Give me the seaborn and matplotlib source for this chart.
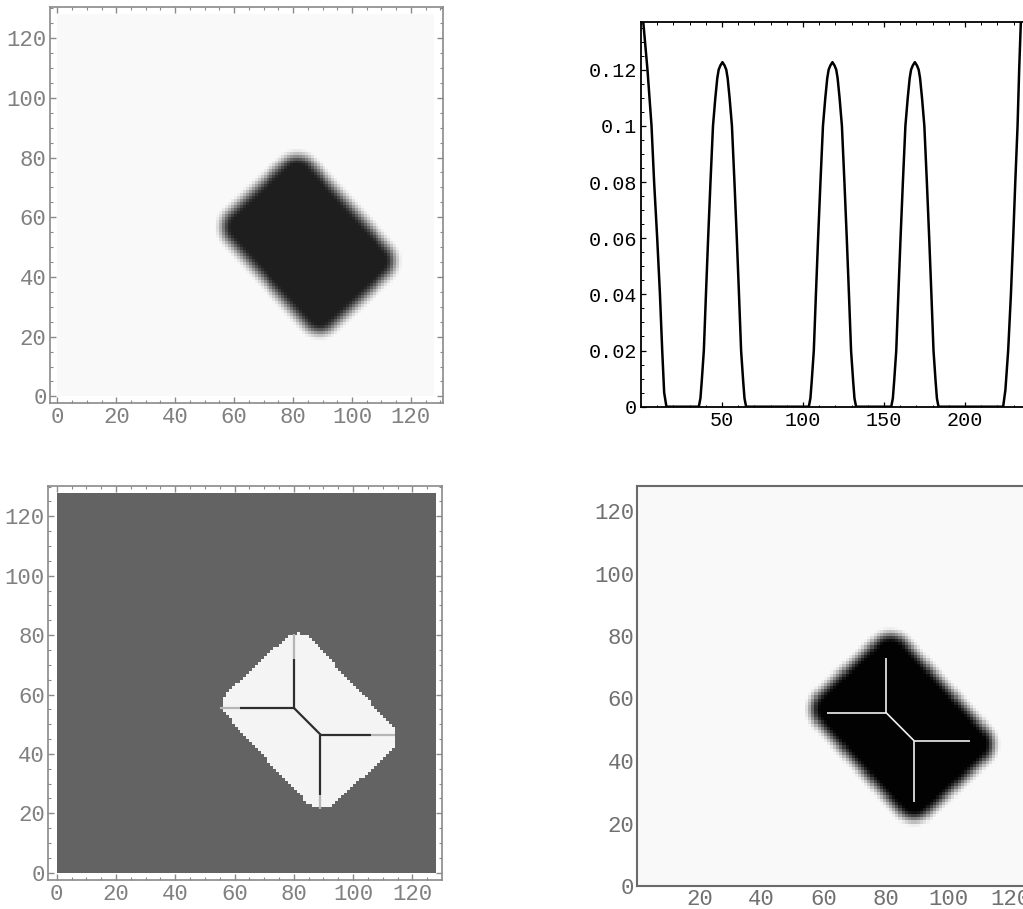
import numpy as np
import pandas as pd
import matplotlib
matplotlib.use("Agg")
import matplotlib.pyplot as plt
from matplotlib.ticker import MultipleLocator
import seaborn as sns

# ── values ────────────────────────────────────────────────────────────────────
# rotated block on the 128x128 grid: outer points left, top, right, bottom
BLOCK_X = [55, 81, 115, 90]
BLOCK_Y = [56, 80, 46, 22]
BLOCK_ROUND = 6.5
GRID_N = 128

# skeleton, inner part (dark on the threshold panel, white on the blob)
SKEL_X0 = [80, 62, 80, 89, 89]
SKEL_Y0 = [72, 55.5, 55.5, 46.5, 46.5]
SKEL_X1 = [80, 80, 89, 106, 89]
SKEL_Y1 = [55.5, 55.5, 46.5, 46.5, 26]
# faint skeleton ends running out to the block edge
TIP_X0 = [80, 55, 106, 89]
TIP_Y0 = [72, 55.5, 46.5, 26]
TIP_X1 = [80, 62, 114, 89]
TIP_Y1 = [80.5, 55.5, 46.5, 21.5]
# skeleton drawn on the blurred blob (last panel)
WSKEL_X0 = [80, 61, 80, 89, 89]
WSKEL_Y0 = [73, 55.5, 55.5, 46.5, 46.5]
WSKEL_X1 = [80, 80, 89, 107, 89]
WSKEL_Y1 = [55.5, 55.5, 46.5, 46.5, 27]

# profile curve (top right): first drop, three equal bumps, start of last rise
HEAD_X = [0, 1.4, 4.0, 6.5, 8.1, 10.0, 11.7, 13.1, 14.3, 15.7]
HEAD_Y = [0.145, 0.137, 0.12, 0.10, 0.08, 0.06, 0.04, 0.02, 0.005, 0.0]
BUMP_DX = [-14.6, -13.6, -12.8, -11.5, -10.2, -8.85, -7.4, -5.85, -4.4, -3.2,
           -2.35, -1.3, 0.0, 1.3, 2.35, 3.2, 4.4, 5.85, 7.4, 8.85, 10.2, 11.5,
           12.8, 13.6, 14.6]
BUMP_Y = [0.0, 0.003, 0.009, 0.02, 0.04, 0.06, 0.08, 0.10, 0.11, 0.117,
          0.12, 0.1215, 0.1227, 0.1215, 0.12, 0.117, 0.11, 0.10, 0.08, 0.06,
          0.04, 0.02, 0.009, 0.003, 0.0]
BUMP_CENTRES = [50.3, 118.2, 169.1]
TAIL_X = [223.6, 225.0, 226.7, 228.4, 229.8, 231.1, 232.5, 233.5, 234.4, 236.0]
TAIL_Y = [0.0, 0.006, 0.02, 0.04, 0.06, 0.08, 0.10, 0.12, 0.135, 0.16]

IMG_TICKS = [0, 20, 40, 60, 80, 100, 120]
BR_XTICKS = [20, 40, 60, 80, 100, 120]
CURVE_XTICKS = [50, 100, 150, 200]
CURVE_YTICKS = [0, 0.02, 0.04, 0.06, 0.08, 0.10, 0.12]
CURVE_YLABELS = ["0", "0.02", "0.04", "0.06", "0.08", "0.1", "0.12"]

W, H = 1023, 909
sns.set_style("white")
plt.rcParams["font.family"] = ["Liberation Mono", "DejaVu Sans"]


def _px_axes(fig, left, top, right, bottom):
    return fig.add_axes([left / W, 1 - bottom / H, (right - left) / W, (bottom - top) / H])


def block_distance():
    """signed distance (grid units) of each cell centre to the rounded block"""
    bx, by = np.array(BLOCK_X, float), np.array(BLOCK_Y, float)
    cx, cy = bx.mean(), by.mean()
    u = np.array([bx[1] - bx[0], by[1] - by[0]])
    v = np.array([bx[3] - bx[0], by[3] - by[0]])
    a, b = np.hypot(*u) / 2 + 1.6, np.hypot(*v) / 2 + 1.6
    u = u / np.hypot(*u)
    v = np.array([u[1], -u[0]])
    g = np.arange(GRID_N) + 0.5
    X, Y = np.meshgrid(g, g)
    s = (X - cx) * u[0] + (Y - cy) * u[1]
    t = (X - cx) * v[0] + (Y - cy) * v[1]
    qx = np.abs(s) - (a - BLOCK_ROUND)
    qy = np.abs(t) - (b - BLOCK_ROUND)
    return (np.hypot(np.maximum(qx, 0), np.maximum(qy, 0))
            + np.minimum(np.maximum(qx, qy), 0) - BLOCK_ROUND)


def soft(d, width, inside, outside):
    k = np.clip(0.5 + d / width, 0, 1)
    k = k * k * (3 - 2 * k)
    return inside + (outside - inside) * k


def draw_field(ax, field):
    sns.heatmap(field, cmap="gray", vmin=0, vmax=1, cbar=False, ax=ax,
                xticklabels=False, yticklabels=False)


def draw_segments(ax, x0, y0, x1, y1, color, lw):
    seg = pd.DataFrame({
        "x": [v for pair in zip(x0, x1) for v in pair],
        "y": [v for pair in zip(y0, y1) for v in pair],
        "seg": [i for i in range(len(x0)) for _ in range(2)],
    })
    sns.lineplot(data=seg, x="x", y="y", units="seg", estimator=None, sort=False,
                 color=color, lw=lw, ax=ax, legend=False, solid_capstyle="butt")
    ax.set(xlabel="", ylabel="")


def frame_style(ax, lim_x, lim_y):
    ax.set_xlim(*lim_x)
    ax.set_ylim(*lim_y)
    for sp in ax.spines.values():
        sp.set_visible(True)
        sp.set_color("#8a8a8a")
        sp.set_linewidth(1.2)
    ax.set_xticks(IMG_TICKS)
    ax.set_xticklabels([str(t) for t in IMG_TICKS])
    ax.set_yticks(IMG_TICKS)
    ax.set_yticklabels([str(t) for t in IMG_TICKS])
    ax.xaxis.set_minor_locator(MultipleLocator(5))
    ax.yaxis.set_minor_locator(MultipleLocator(5))
    ax.tick_params(which="both", direction="in", top=True, right=True,
                   bottom=True, left=True, color="#8a8a8a",
                   labelcolor="#808080", labelsize=16)
    ax.tick_params(which="major", length=4, width=1.0)
    ax.tick_params(which="minor", length=2, width=0.8)
    ax.tick_params(axis="x", pad=3)
    ax.tick_params(axis="y", pad=2.5, labelrotation=0)


dist = block_distance()

fig = plt.figure(figsize=(W / 100, H / 100), dpi=100, facecolor="white")

# ── top left: blurred block ───────────────────────────────────────────────────
ax1 = _px_axes(fig, 50, 6.7, 443.3, 403.3)
draw_field(ax1, soft(dist, 6.0, 0.12, 0.975))
frame_style(ax1, (-2.5, 131.0), (-2.3, 130.5))

# ── top right: profile curve ──────────────────────────────────────────────────
curve_x = list(HEAD_X)
curve_y = list(HEAD_Y)
for c in BUMP_CENTRES:
    curve_x += [c + dx for dx in BUMP_DX]
    curve_y += BUMP_Y
curve_x += TAIL_X
curve_y += TAIL_Y

ax2 = _px_axes(fig, 641, 22, 641 + 256 * 1.6196, 406.7)
sns.lineplot(x=curve_x, y=curve_y, sort=False, estimator=None, color="black",
             lw=1.8, ax=ax2)
ax2.set_xlim(0, 256)
ax2.set_ylim(0, 0.137)
ax2.set_xticks(CURVE_XTICKS)
ax2.set_yticks(CURVE_YTICKS)
ax2.set_yticklabels(CURVE_YLABELS)
ax2.xaxis.set_minor_locator(MultipleLocator(10))
ax2.yaxis.set_minor_locator(MultipleLocator(0.005))
for sp in ax2.spines.values():
    sp.set_color("black")
    sp.set_linewidth(1.3)
ax2.tick_params(which="both", direction="in", top=True, left=True, bottom=True,
                color="black", labelcolor="black", labelsize=14.5)
ax2.tick_params(which="major", length=3.5, width=0.9)
ax2.tick_params(which="minor", length=1.8, width=0.7)
ax2.tick_params(axis="x", pad=3)
ax2.tick_params(axis="y", pad=3)

# ── bottom left: thresholded block with skeleton ──────────────────────────────
ax3 = _px_axes(fig, 48.3, 485.7, 441.7, 880)
draw_field(ax3, np.where(dist < 0, 0.955, 0.39))
draw_segments(ax3, TIP_X0, TIP_Y0, TIP_X1, TIP_Y1, "#b5b5b5", 1.6)
draw_segments(ax3, SKEL_X0, SKEL_Y0, SKEL_X1, SKEL_Y1, "#2e2e2e", 1.6)
frame_style(ax3, (-2.85, 129.9), (-2.45, 130.3))

# ── bottom right: blurred block with skeleton ─────────────────────────────────
ax4 = _px_axes(fig, 637, 486, 637 + 128 * 3.1125, 886)
draw_field(ax4, soft(dist, 5.5, 0.01, 0.975))
draw_segments(ax4, WSKEL_X0, WSKEL_Y0, WSKEL_X1, WSKEL_Y1, "#f0f0f0", 1.2)
ax4.set_xlim(0, 128)
ax4.set_ylim(0, 128)
for sp in ax4.spines.values():
    sp.set_visible(True)
    sp.set_color("#6a6a6a")
    sp.set_linewidth(1.5)
ax4.set_xticks(BR_XTICKS)
ax4.set_xticklabels([str(t) for t in BR_XTICKS])
ax4.set_yticks(IMG_TICKS)
ax4.set_yticklabels([str(t) for t in IMG_TICKS])
ax4.tick_params(which="both", length=0, labelcolor="#707070", labelsize=16,
                bottom=True, left=True)
ax4.tick_params(axis="x", pad=2)
ax4.tick_params(axis="y", pad=2, labelrotation=0)

fig.savefig("out.png", dpi=100, facecolor="white")
